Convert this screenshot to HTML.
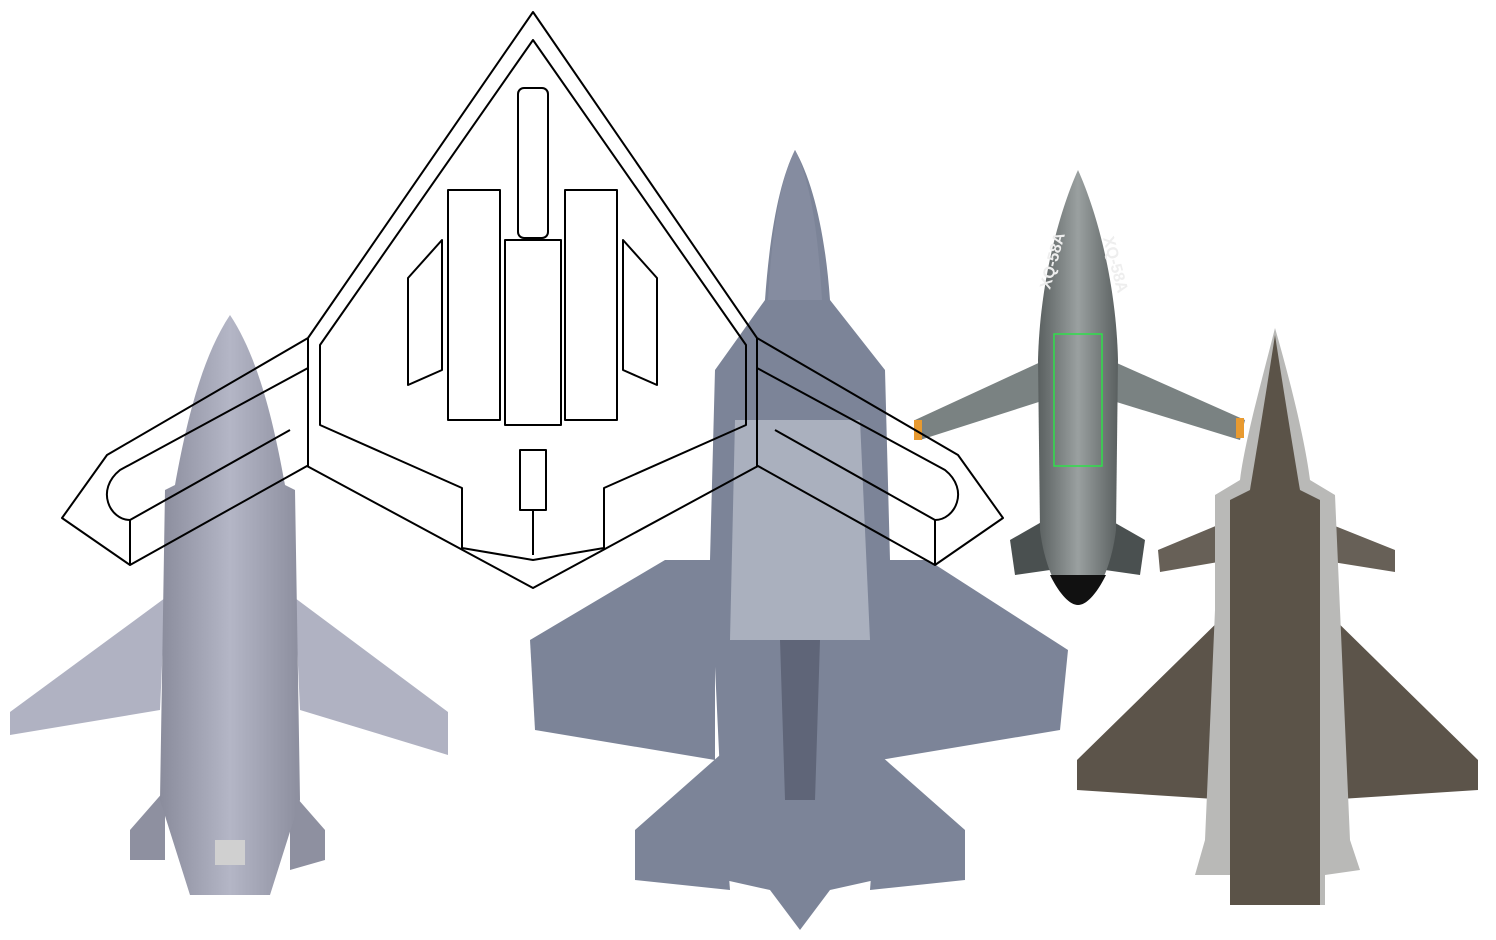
<!DOCTYPE html>
<html><head><meta charset="utf-8"><style>html,body{margin:0;padding:0;background:#fff;width:1496px;height:940px;overflow:hidden}</style></head>
<body>
<svg width="1496" height="940" viewBox="0 0 1496 940" xmlns="http://www.w3.org/2000/svg">
<defs>
<linearGradient id="g1" x1="0" x2="1"><stop offset="0" stop-color="#8a8c9c"/><stop offset="0.5" stop-color="#b4b6c6"/><stop offset="1" stop-color="#8c8e9e"/></linearGradient>
<linearGradient id="g2" x1="0" x2="1"><stop offset="0" stop-color="#5a6060"/><stop offset="0.5" stop-color="#9aa0a0"/><stop offset="1" stop-color="#5a6060"/></linearGradient>
</defs>
<!-- left jet -->
<g fill="url(#g1)">
<path d="M10,712 L165,598 L160,710 L10,735 Z" fill="#b0b2c2"/>
<path d="M448,712 L295,598 L300,710 L448,755 Z" fill="#b0b2c2"/>
<path d="M130,830 L165,790 L165,860 L130,860 Z" fill="#8e90a0"/>
<path d="M325,830 L290,790 L290,870 L325,860 Z" fill="#8e90a0"/>
<path d="M230,315 C200,360 185,430 175,485 L165,490 L160,800 L190,895 L270,895 L300,800 L295,490 L285,485 C275,430 260,360 230,315 Z"/>
<rect x="215" y="840" width="30" height="25" fill="#d0d0d0"/>
</g>
<!-- F-35 -->
<g fill="#7c8498">
<path d="M530,640 L665,560 L715,560 L715,760 L535,730 Z"/>
<path d="M1068,650 L928,560 L880,560 L880,760 L1060,730 Z"/>
<path d="M635,830 L720,755 L730,890 L635,880 Z"/>
<path d="M965,830 L880,755 L870,890 L965,880 Z"/>
<path d="M795,150 C780,180 770,230 765,300 L715,370 L710,560 L725,880 L770,890 L800,930 L830,890 L875,880 L890,560 L885,370 L830,300 C825,230 812,180 795,150 Z"/>
<path d="M795,150 C780,180 772,230 768,300 L822,300 C818,230 810,180 795,150 Z" fill="#858ca0"/>
<path d="M735,420 L860,420 L870,640 L730,640 Z" fill="#aab0be"/>
<path d="M780,640 L820,640 L815,800 L785,800 Z" fill="#5f6578"/>
</g>
<!-- XQ-58A -->
<g>
<path d="M915,420 L1045,360 L1045,400 L920,440 Z" fill="#7a8282"/>
<path d="M1245,420 L1110,360 L1110,400 L1240,440 Z" fill="#7a8282"/>
<path d="M1010,540 L1045,520 L1050,570 L1015,575 Z" fill="#4a5050"/>
<path d="M1145,540 L1110,520 L1105,570 L1140,575 Z" fill="#4a5050"/>
<path d="M1078,170 C1060,210 1040,280 1038,360 L1040,530 C1045,570 1060,600 1078,605 C1096,600 1111,570 1116,530 L1118,360 C1116,280 1096,210 1078,170 Z" fill="url(#g2)"/>
<path d="M1050,575 C1060,595 1070,605 1078,605 C1086,605 1096,595 1106,575 Z" fill="#111"/>
<rect x="1054" y="334" width="48" height="132" fill="none" stroke="#2ee04a" stroke-width="1.5"/>
<rect x="914" y="420" width="8" height="20" fill="#e89a30"/>
<rect x="1236" y="418" width="8" height="20" fill="#e89a30"/>
<text x="1050" y="290" fill="#eee" font-family="Liberation Sans, sans-serif" font-size="16" font-weight="bold" transform="rotate(-75 1050 290)">XQ-58A</text>
<text x="1103" y="238" fill="#eee" font-family="Liberation Sans, sans-serif" font-size="16" font-weight="bold" transform="rotate(75 1103 238)">XQ-58A</text>
</g>
<!-- brown jet -->
<g>
<path d="M1158,550 L1230,520 L1230,560 L1160,572 Z" fill="#676057"/>
<path d="M1395,550 L1320,520 L1320,560 L1395,572 Z" fill="#676057"/>
<path d="M1077,760 L1230,610 L1230,800 L1077,790 Z" fill="#5c544a"/>
<path d="M1478,760 L1325,610 L1325,800 L1478,790 Z" fill="#5c544a"/>
<path d="M1275,328 C1262,380 1245,440 1240,480 L1215,495 L1215,610 L1205,840 L1195,875 L1230,875 L1230,905 L1325,905 L1325,875 L1360,870 L1350,840 L1340,610 L1335,495 L1310,480 C1305,440 1290,380 1275,328 Z" fill="#b9b9b7"/>
<path d="M1275,335 C1265,400 1255,460 1250,490 L1230,500 L1230,905 L1320,905 L1320,500 L1300,490 C1295,460 1285,400 1275,335 Z" fill="#5b5348"/>
</g>
<!-- line drawing -->
<g fill="none" stroke="#000" stroke-width="2" stroke-linejoin="round">
<path d="M533,12 L308,338 L107,455 L62,518 L130,565 L307,466 L533,588 L758,466 L935,565 L1003,518 L958,455 L757,338 Z"/>
<path d="M533,40 L320,345 L320,425 L462,488 L462,548 L533,560 L604,548 L604,488 L746,425 L746,345 Z"/>
<path d="M308,338 L308,466 M757,338 L757,466"/>
<path d="M308,368 L120,470 C95,490 110,520 130,520 L290,430 M757,368 L945,470 C970,490 955,520 935,520 L775,430"/>
<path d="M130,520 L130,565 M935,520 L935,565"/>
<rect x="518" y="88" width="30" height="150" rx="6"/>
<rect x="448" y="190" width="52" height="230"/>
<rect x="565" y="190" width="52" height="230"/>
<rect x="505" y="240" width="56" height="185"/>
<rect x="520" y="450" width="26" height="60"/>
<path d="M533,510 L533,555"/>
<path d="M408,278 L408,385 L442,370 L442,240 Z M657,278 L657,385 L623,370 L623,240 Z"/>
</g>
</svg>
</body></html>
